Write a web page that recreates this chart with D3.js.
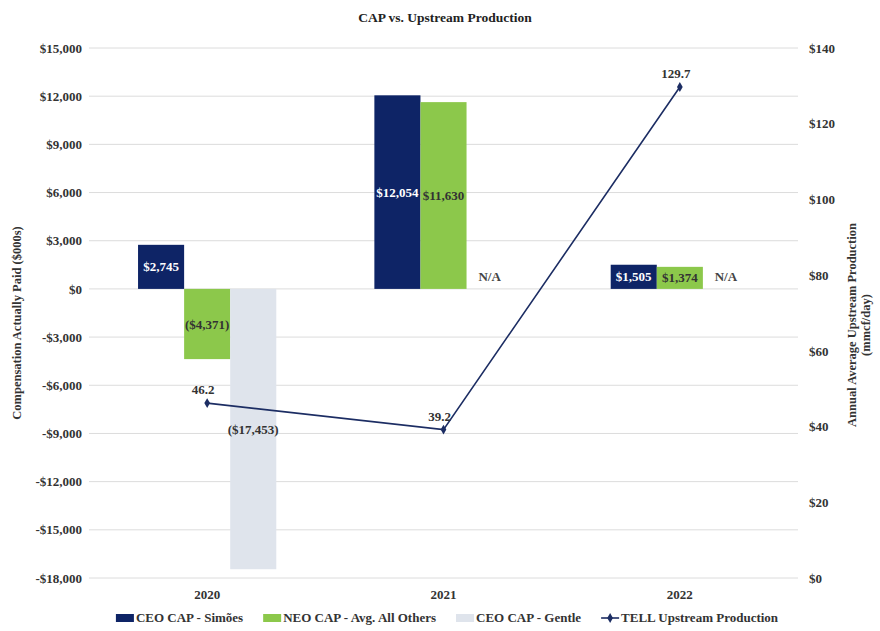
<!DOCTYPE html>
<html><head><meta charset="utf-8">
<script src="https://cdn.jsdelivr.net/npm/d3@7"></script>
<style>
body{margin:0;background:#fff;}
text{font-family:"Liberation Serif","DejaVu Serif",serif;}
</style></head>
<body><svg id="c" width="880" height="631"></svg>
<script>
const years = ["2020","2021","2022"];
const ceoSimoes = [2745, 12054, 1505];
const neoOthers = [-4371, 11630, 1374];
const ceoGentle = [-17453, null, null];
const production = [46.2, 39.2, 129.7];
const leftTicks = [15000,12000,9000,6000,3000,0,-3000,-6000,-9000,-12000,-15000,-18000];
const rightTicks = [0,20,40,60,80,100,120,140];
const seriesNames = ["CEO CAP - Simões","NEO CAP - Avg. All Others","CEO CAP - Gentle"];
const seriesColors = ["#0e2466","#8cc84b","#dfe4ec"];
const lineName = "TELL Upstream Production";
const lineColor = "#1c2d63";

const svg = d3.select("#c");
const L=89, R=798, T=48, B=578;
const y = d3.scaleLinear().domain([-18000,15000]).range([B,T]);
const y2 = d3.scaleLinear().domain([0,140]).range([B,T]);
const x0 = d3.scaleBand().domain(years).range([L,R]).paddingInner(0.415).paddingOuter(0.2075);
const x1 = d3.scaleBand().domain(seriesNames).range([0,x0.bandwidth()]);
const series = [ceoSimoes, neoOthers, ceoGentle];
const txt = "#333";
const FF = "'Liberation Serif','DejaVu Serif',serif";

// title
svg.append("text").attr("x",445).attr("y",22).attr("text-anchor","middle")
  .attr("font-size",13.5).attr("font-weight","bold").attr("fill","#222").text("CAP vs. Upstream Production");

// gridlines
svg.append("g").selectAll("line").data(leftTicks).join("line")
  .attr("x1",L).attr("x2",R).attr("y1",d=>y(d)).attr("y2",d=>y(d))
  .attr("stroke","#dcdcdc").attr("stroke-width",1);

// left axis
const fmtAxis = d=> (d<0?"-$":"$")+d3.format(",")(Math.abs(d));
const la = svg.append("g").attr("transform",`translate(${L},0)`)
  .call(d3.axisLeft(y).tickValues(leftTicks).tickFormat(fmtAxis).tickSize(0).tickPadding(7));
la.select(".domain").remove();
la.selectAll("text").attr("font-size",13).attr("font-weight","bold").attr("fill",txt).style("font-family",FF);

// right axis
const ra = svg.append("g").attr("transform",`translate(${R},0)`)
  .call(d3.axisRight(y2).tickValues(rightTicks).tickFormat(d=>"$"+d).tickSize(0).tickPadding(11));
ra.select(".domain").remove();
ra.selectAll("text").attr("font-size",13).attr("font-weight","bold").attr("fill",txt).style("font-family",FF);

// bottom axis labels
const xa = svg.append("g").attr("transform",`translate(0,${B})`)
  .call(d3.axisBottom(x0).tickSize(0).tickPadding(12));
xa.select(".domain").remove();
xa.selectAll("text").attr("font-size",13).attr("font-weight","bold").attr("fill",txt).style("font-family",FF);

// axis titles
svg.append("text").attr("transform",`translate(21,${(T+B)/2+10}) rotate(-90)`).attr("text-anchor","middle")
  .attr("font-size",12.5).attr("font-weight","bold").attr("fill",txt).text("Compensation Actually Paid ($000s)");
const rt = svg.append("text").attr("transform",`translate(856,${(T+B)/2+12}) rotate(-90)`).attr("text-anchor","middle")
  .attr("font-size",12.5).attr("font-weight","bold").attr("fill",txt);
rt.append("tspan").attr("x",0).attr("dy",0).text("Annual Average Upstream Production");
rt.append("tspan").attr("x",0).attr("dy",14).text("(mmcf/day)");

// bars
const fmtBar = d=> d<0 ? "($"+d3.format(",")(-d)+")" : "$"+d3.format(",")(d);
series.forEach((vals,si)=>{
  const g = svg.append("g");
  years.forEach((yr,i)=>{
    const v = vals[i];
    const bx = x0(yr)+x1(seriesNames[si]);
    const bw = x1.bandwidth();
    if(v===null){
      g.append("text").attr("x",bx+bw/2).attr("y",y(0)-8).attr("text-anchor","middle")
        .attr("font-size",13).attr("font-weight","bold").attr("fill","#444").text("N/A");
      return;
    }
    g.append("rect").attr("x",bx).attr("width",bw)
      .attr("y",Math.min(y(v),y(0))).attr("height",Math.abs(y(v)-y(0)))
      .attr("fill",seriesColors[si]);
    g.append("text").attr("x",bx+bw/2).attr("y",(y(v)+y(0))/2).attr("dy","0.35em")
      .attr("text-anchor","middle").attr("font-size",13).attr("font-weight","bold")
      .attr("fill",si===0?"#fff":"#333").text(fmtBar(v));
  });
});

// line
const pts = years.map((yr,i)=>[x0(yr)+x0.bandwidth()/2, y2(production[i])]);
svg.append("path").attr("d",d3.line()(pts)).attr("fill","none").attr("stroke",lineColor).attr("stroke-width",1.6);
svg.append("g").selectAll("path").data(pts).join("path")
  .attr("transform",d=>`translate(${d[0]},${d[1]})`)
  .attr("d",d3.symbol(d3.symbolDiamond,28)()).attr("fill",lineColor);
svg.append("g").selectAll("text").data(production).join("text")
  .attr("x",(d,i)=>pts[i][0]-4).attr("y",(d,i)=>pts[i][1]-9).attr("text-anchor","middle")
  .attr("font-size",13).attr("font-weight","bold").attr("fill","#333").text(d=>d.toFixed(1));

// legend
const lg = svg.append("g");
const items = seriesNames.map((n,i)=>({name:n,color:seriesColors[i],type:"rect"})).concat([{name:lineName,color:lineColor,type:"line"}]);
let cx = 0;
const ly = 619;
items.forEach((it,i)=>{
  const g = lg.append("g").attr("transform",`translate(${cx},0)`);
  if(it.type==="rect"){
    g.append("rect").attr("x",0).attr("y",ly-5).attr("width",18).attr("height",8).attr("fill",it.color);
  } else {
    g.append("line").attr("x1",0).attr("x2",18).attr("y1",ly-1).attr("y2",ly-1).attr("stroke",it.color).attr("stroke-width",1.6);
    g.append("path").attr("transform",`translate(9,${ly-1})`).attr("d",d3.symbol(d3.symbolDiamond,28)()).attr("fill",it.color);
  }
  const t = g.append("text").attr("x",20).attr("y",ly+3).attr("font-size",13).attr("font-weight","bold").attr("fill",txt).text(it.name);
  cx += 20 + t.node().getComputedTextLength() + 20;
});
cx -= 20;
lg.attr("transform",`translate(${447-cx/2},0)`);
</script></body></html>
